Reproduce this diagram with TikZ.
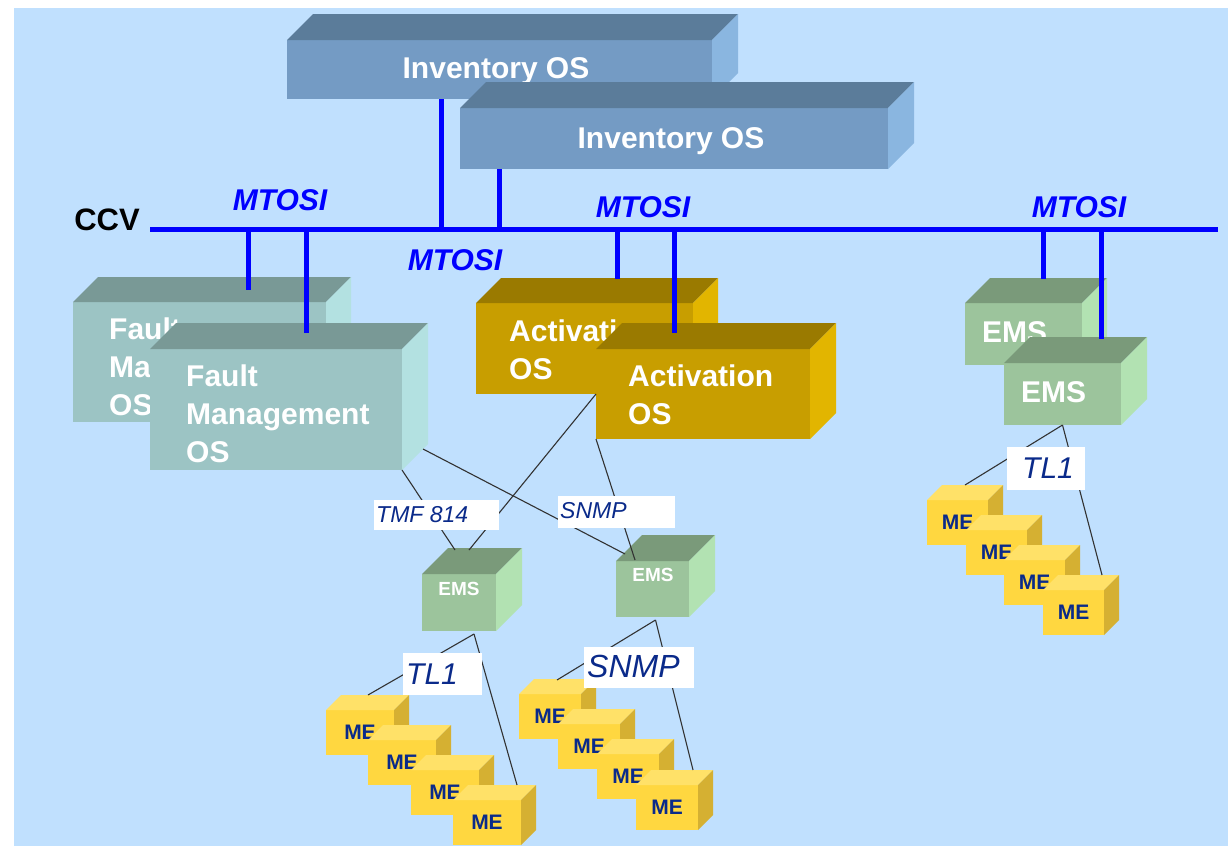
\documentclass[tikz,border=0pt]{standalone}
\usepackage{fontspec}
\setmainfont{Liberation Sans}
\definecolor{bg}{RGB}{192,224,254}
\definecolor{invF}{RGB}{116,155,196}
\definecolor{invT}{RGB}{91,124,154}
\definecolor{invS}{RGB}{138,182,224}
\definecolor{fmF}{RGB}{156,196,196}
\definecolor{fmT}{RGB}{121,153,150}
\definecolor{fmS}{RGB}{179,225,225}
\definecolor{actF}{RGB}{200,158,0}
\definecolor{actT}{RGB}{154,122,0}
\definecolor{actS}{RGB}{226,181,0}
\definecolor{emsF}{RGB}{156,196,156}
\definecolor{emsT}{RGB}{122,154,122}
\definecolor{emsS}{RGB}{178,226,178}
\definecolor{meF}{RGB}{255,215,64}
\definecolor{meT}{RGB}{255,225,104}
\definecolor{meS}{RGB}{213,176,50}
\definecolor{navy}{RGB}{10,42,138}
\definecolor{busblue}{RGB}{0,0,255}
\definecolor{wire}{RGB}{50,50,50}
\tikzset{
  face/.style={inner sep=0pt, outer sep=0pt, anchor=north west},
  bustap/.style={draw=busblue, line width=5pt},
  wireline/.style={draw=wire, line width=1.1pt},
  boxtxt/.style={text=white, font=\fontsize{30}{36}\selectfont\bfseries, anchor=base west, inner sep=0pt},
  mtosi/.style={text=busblue, font=\fontsize{30}{36}\selectfont\bfseries\itshape, inner sep=0pt},
  lblbox/.style={fill=white, draw=none, inner sep=0pt, anchor=north west},
  lbltxt/.style={text=navy, font=\itshape, anchor=base west, inner sep=0pt},
  metxt/.style={text=navy, font=\fontsize{21}{24}\selectfont\bfseries},
}
% \cubebox{name}{x}{y}{w}{h}{depth}{front}{top}{side}
\newcommand{\cubebox}[9]{%
  \node[face, fill=#7, minimum width=#4pt, minimum height=#5pt] (#1) at (#2,#3) {};
  \fill[#8] (#1.north west) -- ++(#6,-#6) -- ([xshift=#6pt,yshift=#6pt]#1.north east) -- (#1.north east) -- cycle;
  \fill[#9] (#1.north east) -- ++(#6,-#6) -- ([xshift=#6pt,yshift=#6pt]#1.south east) -- (#1.south east) -- cycle;
}
\newcommand{\mebox}[4]{% name x y w
  \node[face, fill=meF, minimum width=#4pt, minimum height=45pt, metxt] (#1) at (#2,#3) {ME};
  \fill[meT] (#1.north west) -- ++(15,-15) -- ([xshift=15pt,yshift=15pt]#1.north east) -- (#1.north east) -- cycle;
  \fill[meS] (#1.north east) -- ++(15,-15) -- ([xshift=15pt,yshift=15pt]#1.south east) -- (#1.south east) -- cycle;
}
\begin{document}
\begin{tikzpicture}[x=1pt,y=-1pt]
\useasboundingbox (0,0) rectangle (1228,846);
\fill[bg] (14,8) rectangle (1228,846);

% Inventory OS boxes
\cubebox{inv1}{287}{40}{425}{59}{26}{invF}{invT}{invS}
\node[boxtxt, anchor=base] (inv1t) at (496,78) {Inventory OS};
\cubebox{inv2}{460}{108}{428}{61}{26}{invF}{invT}{invS}
\node[boxtxt, anchor=base] (inv2t) at (671,148) {Inventory OS};

% Fault management
\cubebox{fmB}{73}{302}{253}{120}{25}{fmF}{fmT}{fmS}
\node[boxtxt, align=left, anchor=north west, font=\fontsize{30}{38}\selectfont\bfseries] (fmBt) at (109,318) {Fault\\Management\\OS};
\cubebox{fmF}{150}{349}{252}{121}{26}{fmF}{fmT}{fmS}
\node[boxtxt, align=left, anchor=north west, font=\fontsize{30}{38}\selectfont\bfseries] (fmFt) at (186,365) {Fault\\Management\\OS};

% Activation
\cubebox{actB}{476}{303}{217}{91}{25}{actF}{actT}{actS}
\node[boxtxt, align=left, anchor=north west, font=\fontsize{30}{38}\selectfont\bfseries] (actBt) at (509,320) {Activation\\OS};
\cubebox{actF}{596}{349}{214}{90}{26}{actF}{actT}{actS}
\node[boxtxt, align=left, anchor=north west, font=\fontsize{30}{38}\selectfont\bfseries] (actFt) at (628,365) {Activation\\OS};

% Right EMS
\cubebox{emsRB}{965}{303}{117}{62}{25}{emsF}{emsT}{emsS}
\node[boxtxt] (emsRBt) at (982,342) {EMS};
\cubebox{emsRF}{1004}{363}{117}{62}{26}{emsF}{emsT}{emsS}
\node[boxtxt] (emsRFt) at (1021,402) {EMS};

% small EMS
\cubebox{emsL}{422}{574}{74}{57}{26}{emsF}{emsT}{emsS}
\node[boxtxt, anchor=base, font=\fontsize{19}{22}\selectfont\bfseries] (emsLt) at (459,595) {EMS};
\cubebox{emsM}{616}{561}{73}{56}{26}{emsF}{emsT}{emsS}
\node[boxtxt, anchor=base, font=\fontsize{19}{22}\selectfont\bfseries] (emsMt) at (653,581) {EMS};

% ME stacks
\mebox{meL1}{326}{710}{68}
\mebox{meL2}{368}{740}{68}
\mebox{meL3}{411}{770}{68}
\mebox{meL4}{453}{800}{68}
\mebox{meM1}{519}{694}{62}
\mebox{meM2}{558}{724}{62}
\mebox{meM3}{597}{754}{62}
\mebox{meM4}{636}{785}{62}
\mebox{meR1}{927}{500}{61}
\mebox{meR2}{966}{530}{61}
\mebox{meR3}{1004}{560}{61}
\mebox{meR4}{1043}{590}{61}

% CCV bus
\coordinate (busL) at (150,229);
\coordinate (busR) at (1218,229);
\draw[bustap] (busL) -- (busR);
\node[font=\fontsize{31}{36}\selectfont\bfseries, inner sep=0pt, anchor=base] (ccv) at (107,230) {CCV};

\coordinate (t1) at (441,229);
\coordinate (t2) at (499,229);
\coordinate (t3) at (248,229);
\coordinate (t4) at (306,229);
\coordinate (t5) at (617,229);
\coordinate (t6) at (674,229);
\coordinate (t7) at (1043,229);
\coordinate (t8) at (1101,229);
\coordinate (fmBtop) at ([yshift=12pt]fmB.north);
\coordinate (fmFtop) at ([yshift=16pt]fmF.north);
\coordinate (actBtop) at ([yshift=24pt]actB.north);
\coordinate (actFtop) at ([yshift=16pt]actF.north);
\coordinate (emsRBtop) at ([yshift=24pt]emsRB.north);
\coordinate (emsRFtop) at ([yshift=24pt]emsRF.north);
\draw[bustap] (t1) -- (t1 |- inv1.south);
\draw[bustap] (t2) -- (t2 |- inv2.south);
\draw[bustap] (t3) -- (t3 |- fmBtop);
\draw[bustap] (t4) -- (t4 |- fmFtop);
\draw[bustap] (t5) -- (t5 |- actBtop);
\draw[bustap] (t6) -- (t6 |- actFtop);
\draw[bustap] (t7) -- (t7 |- emsRBtop);
\draw[bustap] (t8) -- (t8 |- emsRFtop);

\node[mtosi] (m1) at (280,200) {MTOSI};
\node[mtosi] (m2) at (455,260) {MTOSI};
\node[mtosi] (m3) at (643,207) {MTOSI};
\node[mtosi] (m4) at (1079,207) {MTOSI};

% thin connectors
\draw[wireline] (fmF.south east) -- ([xshift=-4pt,yshift=24pt]emsL.north);
\draw[wireline] ([xshift=21pt,yshift=21pt]fmF.south east) -- ([xshift=9pt,yshift=7pt]emsM.north west);
\draw[wireline] (actF.west) -- ([xshift=10pt,yshift=24pt]emsL.north);
\draw[wireline] (actF.south west) -- ([xshift=19pt,yshift=1pt]emsM.north west);
\draw[wireline] ([xshift=15pt,yshift=-3pt]emsL.south) -- ([xshift=42pt,yshift=15pt]meL1.north west);
\draw[wireline] ([xshift=15pt,yshift=-3pt]emsL.south) -- ([xshift=64pt,yshift=15pt]meL4.north west);
\draw[wireline] ([xshift=3pt,yshift=-3pt]emsM.south) -- ([xshift=38pt,yshift=14pt]meM1.north west);
\draw[wireline] ([xshift=3pt,yshift=-3pt]emsM.south) -- ([xshift=57pt,yshift=15pt]meM4.north west);
\draw[wireline] (emsRF.south) -- ([xshift=38pt,yshift=15pt]meR1.north west);
\draw[wireline] (emsRF.south) -- ([xshift=59pt,yshift=15pt]meR4.north west);

% protocol labels
\node[lblbox, minimum width=125pt, minimum height=30pt] (lTMF) at (374,500) {};
\node[lbltxt, font=\fontsize{23}{26}\selectfont\itshape] at (376,522) {TMF 814};
\node[lblbox, minimum width=117pt, minimum height=32pt] (lSNMP1) at (558,496) {};
\node[lbltxt, font=\fontsize{23}{26}\selectfont\itshape] at (560,518) {SNMP};
\node[lblbox, minimum width=79pt, minimum height=42pt] (lTL1a) at (403,653) {};
\node[lbltxt, font=\fontsize{30}{34}\selectfont\itshape] at (406,684) {TL1};
\node[lblbox, minimum width=110pt, minimum height=41pt] (lSNMP2) at (584,647) {};
\node[lbltxt, font=\fontsize{32}{36}\selectfont\itshape] at (587,677) {SNMP};
\node[lblbox, minimum width=78pt, minimum height=43pt] (lTL1b) at (1007,447) {};
\node[lbltxt, font=\fontsize{30}{34}\selectfont\itshape] at (1022,478) {TL1};
\end{tikzpicture}
\end{document}
